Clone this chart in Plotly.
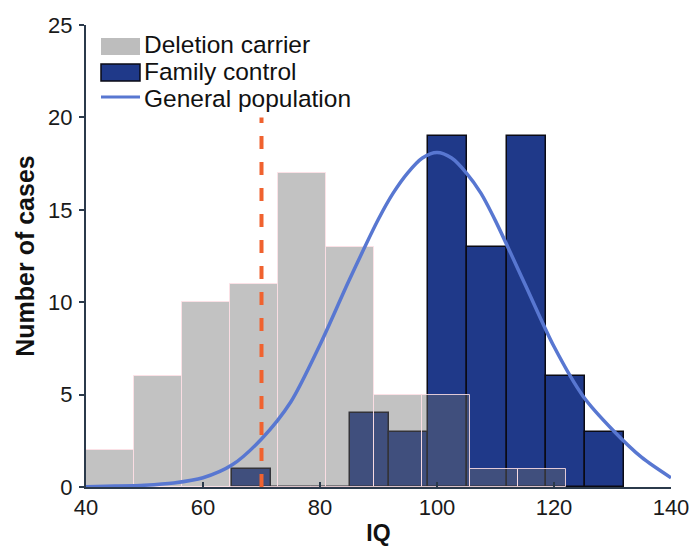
import plotly.graph_objects as go
import numpy as np

# ---- data ----
iq_ticks = [40, 60, 80, 100, 120, 140]
case_ticks = [0, 5, 10, 15, 20, 25]

carrier_edges = [40.0, 48.2, 56.4, 64.6, 72.8, 81.0, 89.2, 97.4, 105.6, 113.8, 122.0]
carrier_counts = [2, 6, 10, 11, 17, 13, 5, 5, 1, 1]

control_edges = [65.0, 71.7, 78.4, 85.1, 91.8, 98.5, 105.2, 111.9, 118.6, 125.3, 132.0]
control_counts = [1, 0, 0, 4, 3, 19, 13, 19, 6, 3]

population_iq = [40, 45, 50, 55, 60, 65, 70, 75, 80, 85, 90, 92.5, 95, 97.5, 100,
                 102.5, 105, 107.5, 110, 115, 120, 125, 130, 135, 140]
population_cases = [0.02, 0.05, 0.1, 0.22, 0.5, 1.2, 2.6, 4.6, 7.7, 11.2, 14.5, 15.9, 17.0, 17.8, 18.1,
                    17.8, 17.0, 15.9, 14.4, 11.0, 7.6, 4.9, 3.1, 1.6, 0.5]

cutoff_iq = 70
cutoff_top = 20

legend_labels = ["Deletion carrier", "Family control", "General population"]

# ---- styles ----
NAVY = "#1f3989"
GRAY = "rgba(110,110,110,0.42)"
CURVE = "#5877d1"
CUTOFF = "#f0622f"
AXIS = "#2b3a4b"

ce = np.array(control_edges)
ge = np.array(carrier_edges)

fig = go.Figure()
fig.add_trace(go.Bar(
    x=(ce[:-1] + ce[1:]) / 2, y=control_counts, width=np.diff(ce),
    marker=dict(color=NAVY, line=dict(color="#0a0a14", width=1.5)),
    name=legend_labels[1], showlegend=False))
fig.add_trace(go.Bar(
    x=(ge[:-1] + ge[1:]) / 2, y=carrier_counts, width=np.diff(ge),
    marker=dict(color=GRAY, line=dict(color="rgba(255,225,230,0.85)", width=1)),
    name=legend_labels[0], showlegend=False))
fig.add_trace(go.Scatter(
    x=population_iq, y=population_cases, mode="lines",
    line=dict(color=CURVE, width=3.5, shape="spline", smoothing=0.8),
    name=legend_labels[2], showlegend=False))

# cutoff line
fig.add_shape(type="line", xref="x", yref="y", x0=cutoff_iq, x1=cutoff_iq, y0=0, y1=cutoff_top,
              line=dict(color=CUTOFF, width=4, dash="13px,13px"))

# manual legend (paper coordinates)
W, H, L, T = 585.0, 462.5, 86.0, 25.0
def px(xp):
    return (xp - L) / W
def py(yp):
    return (T + H - yp) / H

fig.add_shape(type="rect", xref="paper", yref="paper", x0=px(101), x1=px(140), y0=py(55), y1=py(38),
              fillcolor="#bdbdbd", line=dict(width=0))
fig.add_shape(type="rect", xref="paper", yref="paper", x0=px(101), x1=px(140), y0=py(81), y1=py(64),
              fillcolor=NAVY, line=dict(color="#0a0a14", width=1.5))
fig.add_shape(type="line", xref="paper", yref="paper", x0=px(101), x1=px(140), y0=py(97), y1=py(97),
              line=dict(color=CURVE, width=3))
for lab, yc in zip(legend_labels, [45, 72, 99]):
    fig.add_annotation(xref="paper", yref="paper", x=px(143), y=py(yc), text=lab,
                       showarrow=False, xanchor="left", yanchor="middle", borderpad=0,
                       font=dict(family="Liberation Sans", size=24.5, color="#111111"))

axis_common = dict(showline=True, linecolor=AXIS, linewidth=2, showgrid=False, zeroline=False,
                   ticklen=5, tickwidth=1.5, tickcolor=AXIS, automargin=False,
                   tickfont=dict(family="Liberation Sans", size=22, color="#1a1a1a"))

fig.update_layout(
    width=692, height=546,
    margin=dict(l=86, r=21, t=25, b=58.5),
    paper_bgcolor="white", plot_bgcolor="white",
    barmode="overlay", bargap=0,
    xaxis=dict(range=[40, 140], tickvals=iq_ticks, ticks="inside",
               title=dict(text="<b>IQ</b>", font=dict(family="Liberation Sans", size=23, color="#111"),
                          standoff=6),
               **axis_common),
    yaxis=dict(range=[0, 25], tickvals=case_ticks, ticks="outside", ticklabelstandoff=2,
               title=dict(text="<b>Number of cases</b>",
                          font=dict(family="Liberation Sans", size=25, color="#111"), standoff=6),
               **axis_common),
)

fig.write_html("out.html", config={"displayModeBar": False},
               post_script="document.body.style.margin='0';")
